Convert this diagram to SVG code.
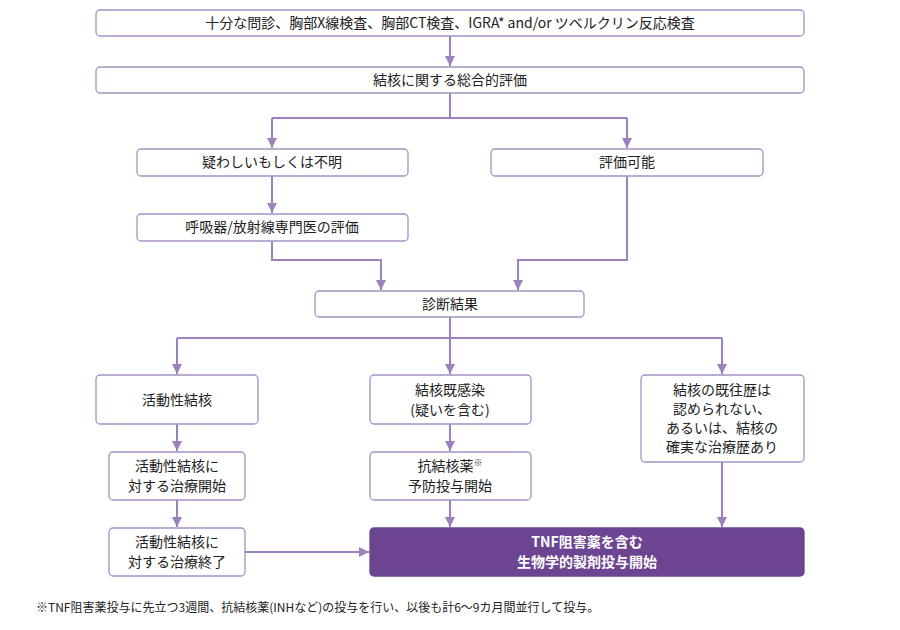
<svg xmlns="http://www.w3.org/2000/svg" width="900" height="630" viewBox="0 0 900 630">
<style>
.b{fill:#fff;stroke:#a593c4;stroke-width:1.3}
.d{fill:#6b4592;stroke:#6b4592;stroke-width:1.3}
.t{font-family:"Noto Sans CJK JP","Noto Sans",sans-serif;font-size:14px;fill:#222;text-anchor:middle}
.w{font-family:"Noto Sans CJK JP","Noto Sans",sans-serif;font-size:14px;fill:#fff;font-weight:bold;text-anchor:middle}
.c path{fill:none;stroke:#9b82bd;stroke-width:2}
</style>
<defs><marker id="a" viewBox="0 0 10 10" refX="10" refY="5" markerWidth="5" markerHeight="5" orient="auto" markerUnits="strokeWidth"><path d="M0,0L10,5L0,10z" fill="#9b82bd"/></marker></defs>
<rect width="900" height="630" fill="#fff"/>
<g class="c">
<path d="M450,36V66" marker-end="url(#a)"/>
<path d="M450,93V118M272,118H627M272,118V148M627,118V148" />
<path d="M272,118V148" marker-end="url(#a)"/><path d="M627,118V148" marker-end="url(#a)"/>
<path d="M272,176V213" marker-end="url(#a)"/>
<path d="M272,241V260H381V290" marker-end="url(#a)"/>
<path d="M627,176V260H518V290" marker-end="url(#a)"/>
<path d="M450,317V338M177,338H722"/>
<path d="M177,338V374" marker-end="url(#a)"/><path d="M450,338V374" marker-end="url(#a)"/><path d="M722,338V374" marker-end="url(#a)"/>
<path d="M177,424V451" marker-end="url(#a)"/>
<path d="M450,424V451" marker-end="url(#a)"/>
<path d="M177,500V527" marker-end="url(#a)"/>
<path d="M450,500V527" marker-end="url(#a)"/>
<path d="M722,462V527" marker-end="url(#a)"/>
<path d="M245,552H369" marker-end="url(#a)"/>
</g>
<g id="n1"><rect class="b" x="96" y="10" width="708" height="26" rx="4"/><text class="t" x="450" y="28">十分な問診、胸部X線検査、胸部CT検査、IGRA* and/or ツベルクリン反応検査</text></g>
<g id="n2"><rect class="b" x="96" y="67" width="708" height="26" rx="4"/><text class="t" x="450" y="85">結核に関する総合的評価</text></g>
<g id="n3"><rect class="b" x="137" y="149" width="271" height="27" rx="4"/><text class="t" x="272" y="167">疑わしいもしくは不明</text></g>
<g id="n4"><rect class="b" x="491" y="149" width="272" height="27" rx="4"/><text class="t" x="627" y="167">評価可能</text></g>
<g id="n5"><rect class="b" x="137" y="214" width="271" height="27" rx="4"/><text class="t" x="272" y="232">呼吸器/放射線専門医の評価</text></g>
<g id="n6"><rect class="b" x="315" y="291" width="269" height="26" rx="4"/><text class="t" x="450" y="309">診断結果</text></g>
<g id="n7"><rect class="b" x="96" y="375" width="162" height="49" rx="4"/><text class="t" x="177" y="405">活動性結核</text></g>
<g id="n8"><rect class="b" x="370" y="375" width="161" height="49" rx="4"/><text class="t" x="450" y="395">結核既感染</text><text class="t" x="450" y="415">(疑いを含む)</text></g>
<g id="n9"><rect class="b" x="641" y="375" width="163" height="87" rx="4"/><text class="t" x="722" y="395">結核の既往歴は</text><text class="t" x="722" y="414">認められない、</text><text class="t" x="722" y="433">あるいは、結核の</text><text class="t" x="722" y="452">確実な治療歴あり</text></g>
<g id="n10"><rect class="b" x="109" y="452" width="136" height="48" rx="4"/><text class="t" x="177" y="471">活動性結核に</text><text class="t" x="177" y="491">対する治療開始</text></g>
<g id="n11"><rect class="b" x="370" y="452" width="161" height="48" rx="4"/><text class="t" x="450" y="471">抗結核薬<tspan font-size="9" dy="-5">※</tspan></text><text class="t" x="450" y="491">予防投与開始</text></g>
<g id="n12"><rect class="b" x="109" y="528" width="136" height="48" rx="4"/><text class="t" x="177" y="547">活動性結核に</text><text class="t" x="177" y="567">対する治療終了</text></g>
<g id="n13"><rect class="d" x="370" y="528" width="434" height="48" rx="4"/><text class="w" x="587" y="547">TNF阻害薬を含む</text><text class="w" x="587" y="567">生物学的製剤投与開始</text></g>
<text x="36" y="612" font-family="'Noto Sans CJK JP','Noto Sans',sans-serif" font-size="12" fill="#222">※TNF阻害薬投与に先立つ3週間、抗結核薬(INHなど)の投与を行い、以後も計6～9カ月間並行して投与。</text>
</svg>
